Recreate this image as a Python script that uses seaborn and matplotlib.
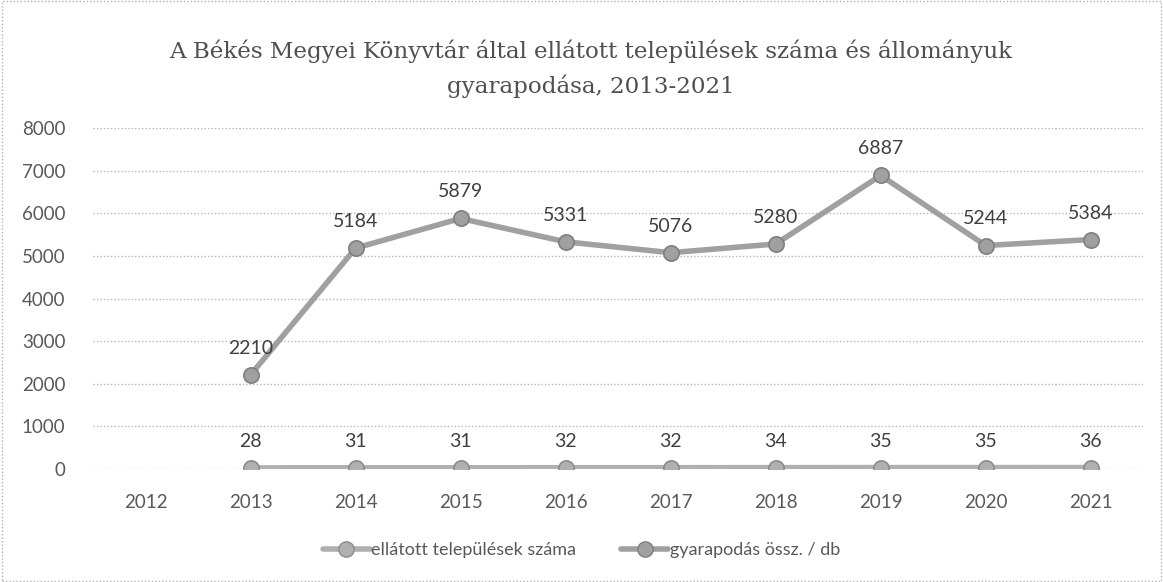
import matplotlib
matplotlib.use("Agg")
import matplotlib.pyplot as plt
import seaborn as sns
import pandas as pd
import numpy as np
from matplotlib.patches import Rectangle
from matplotlib.lines import Line2D

years = [2012, 2013, 2014, 2015, 2016, 2017, 2018, 2019, 2020, 2021]
telepulesek = [np.nan, 28, 31, 31, 32, 32, 34, 35, 35, 36]
gyarapodas = [np.nan, 2210, 5184, 5879, 5331, 5076, 5280, 6887, 5244, 5384]
yticks = [0, 1000, 2000, 3000, 4000, 5000, 6000, 7000, 8000]
title = "A Békés Megyei Könyvtár által ellátott települések száma és állományuk\ngyarapodása, 2013-2021"
series_names = ["ellátott települések száma", "gyarapodás össz. / db"]

df = pd.DataFrame({"year": years, series_names[0]: telepulesek, series_names[1]: gyarapodas})

sns.set_theme(style="white")
plt.rcParams['font.family'] = ['Lato', 'DejaVu Sans']

fig = plt.figure(figsize=(11.63, 5.82), dpi=100)
ax = fig.add_axes([0.080, 0.194, 0.903, 0.586])

colors = ["#b0b0b0", "#a0a0a0"]
edge = ["#8c8c8c", "#7f7f7f"]
for name, c, e in zip(series_names, colors, edge):
    sns.lineplot(data=df, x="year", y=name, ax=ax, color=c, linewidth=4,
                 marker="o", markersize=11, markeredgecolor=e, markeredgewidth=1.2,
                 zorder=3, legend=False)

for name in series_names:
    for x, v in zip(df["year"], df[name]):
        if np.isnan(v):
            continue
        ax.annotate(f"{int(v)}", (x, v), xytext=(0, 13), textcoords="offset points",
                    ha="center", va="bottom", fontsize=14, color="#404040", zorder=4)

ax.set_xlim(2011.5, 2021.5)
ax.set_ylim(0, 8000)
ax.set_yticks(yticks)
ax.set_xticks(years)
ax.set_xticklabels([str(y) for y in years])
ax.set_xlabel("")
ax.set_ylabel("")
ax.grid(axis="y", linestyle=(0, (1, 1.5)), color="#b8b8b8", linewidth=1)
ax.grid(axis="x", visible=False)
for s in ax.spines.values():
    s.set_visible(False)
ax.tick_params(axis="both", length=0, labelsize=13.5, labelcolor="#595959")
ax.tick_params(axis="x", pad=18)
ax.tick_params(axis="y", pad=20)

fig.text(0.508, 0.882, title, ha="center", va="center", fontsize=16.6,
         family=["DejaVu Serif"], color="#505050", linespacing=1.6)

handles = [Line2D([0], [0], color=c, lw=4, marker="o", markersize=11, markeredgecolor=e)
           for c, e in zip(colors, edge)]
fig.legend(handles, series_names, loc="center", bbox_to_anchor=(0.5, 0.055), ncol=2,
           frameon=False, fontsize=13, labelcolor="#595959", handlelength=2.6,
           handletextpad=0.1, columnspacing=2.5)

fig.patches.append(Rectangle((0.002, 0.002), 0.996, 0.996, transform=fig.transFigure,
                             fill=False, edgecolor="#b0b0b0", linestyle=(0, (1, 1.5)), lw=1))

fig.savefig("out.png", dpi=100)
